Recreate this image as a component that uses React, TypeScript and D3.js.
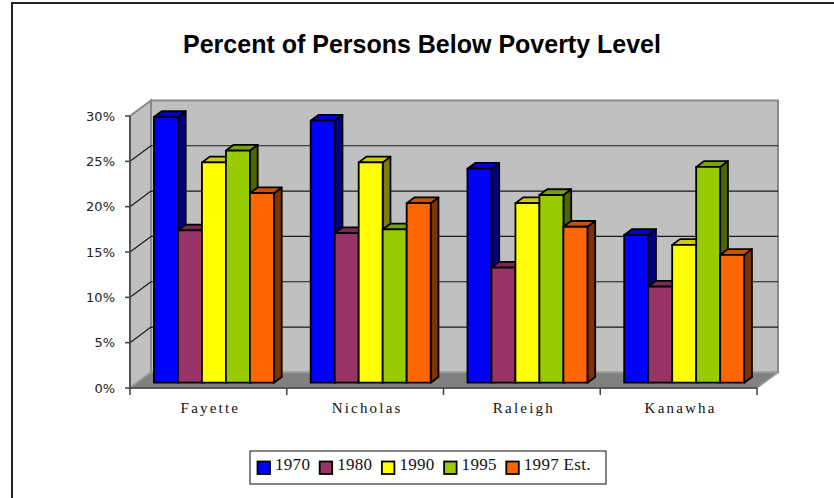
import React from "react";
import * as d3 from "d3";

// Poverty rates (%) by county and year
const counties = ["Fayette", "Nicholas", "Raleigh", "Kanawha"];
const years = ["1970", "1980", "1990", "1995", "1997 Est."];
const rate1970 = [29.3, 28.9, 23.6, 16.3];
const rate1980 = [16.8, 16.5, 12.7, 10.6];
const rate1990 = [24.3, 24.3, 19.8, 15.2];
const rate1995 = [25.6, 16.9, 20.7, 23.8];
const rate1997 = [20.9, 19.8, 17.2, 14.1];
const yTicks = [0, 5, 10, 15, 20, 25, 30];
const seriesColors = ["#0000FF", "#993366", "#FFFF00", "#99CC00", "#FF6600"];

const seriesValues = [rate1970, rate1980, rate1990, rate1995, rate1997];

const W = 834;
const H = 498;

// front floor edge and the oblique depth vector of the 3-D box
const x = d3.scaleBand<string>().domain(counties).range([130, 757]).padding(0);
const y = d3.scaleLinear().domain([0, 30]).range([388, 116]);
const DX = 21;
const DY = -15.6;
// bars occupy this slice of the depth
const F0 = 0.34;
const F1 = 0.71;

const inner = d3
  .scaleBand<string>()
  .domain(years)
  .range([0, x.bandwidth()])
  .paddingInner(0)
  .paddingOuter(0.766)
  .align(0.457);

function shade(c: string, k: number) {
  const r = d3.rgb(c);
  return d3.rgb(r.r * k, r.g * k, r.b * k).formatHex();
}

const pt = (px: number, py: number) => `${px.toFixed(2)},${py.toFixed(2)}`;

export default function App() {
  const x0 = x.range()[0];
  const x1 = x.range()[1];
  const yb = y(0);
  const yt = y(30);

  const bars: React.ReactNode[] = [];
  counties.forEach((c, ci) => {
    years.forEach((s, si) => {
      const v = seriesValues[si][ci];
      const l = (x(c) as number) + (inner(s) as number);
      const r = l + inner.bandwidth();
      const fx = F0 * DX;
      const fy = F0 * DY;
      const bx = F1 * DX;
      const by = F1 * DY;
      const top = y(v);
      const col = seriesColors[si];
      const front = [pt(l + fx, yb + fy), pt(l + fx, top + fy), pt(r + fx, top + fy), pt(r + fx, yb + fy)].join(" ");
      const topFace = [pt(l + fx, top + fy), pt(l + bx, top + by), pt(r + bx, top + by), pt(r + fx, top + fy)].join(" ");
      const side = [pt(r + fx, top + fy), pt(r + bx, top + by), pt(r + bx, yb + by), pt(r + fx, yb + fy)].join(" ");
      bars.push(
        <g key={`${c}-${s}`} stroke="#000" strokeWidth={1.8} strokeLinejoin="round">
          <polygon points={side} fill={shade(col, 0.5)} />
          <polygon points={topFace} fill={shade(col, 0.8)} />
          <polygon points={front} fill={col} />
        </g>
      );
    });
  });

  const grid = yTicks.filter((t) => t > 0 && t < 30);
  const legendX = 257;
  const legendStep = 62.2;

  return (
    <svg width={W} height={H} style={{ position: "absolute", left: 0, top: 0, background: "#fff" }}>
      {/* outer frame */}
      <rect x={12} y={3} width={840} height={520} fill="#fff" stroke="#222" strokeWidth={2} />

      <text
        x={422}
        y={53}
        textAnchor="middle"
        fontFamily="'Liberation Sans', Arial, sans-serif"
        fontWeight="bold"
        fontSize={25}
        fill="#000"
      >
        Percent of Persons Below Poverty Level
      </text>

      {/* walls and floor */}
      <polygon
        points={[pt(x0 + DX, yt + DY), pt(x1 + DX, yt + DY), pt(x1 + DX, yb + DY), pt(x0 + DX, yb + DY)].join(" ")}
        fill="#C0C0C0"
        stroke="#8a8a8a"
        strokeWidth={2}
      />
      <polygon
        points={[pt(x0, yb), pt(x0, yt), pt(x0 + DX, yt + DY), pt(x0 + DX, yb + DY)].join(" ")}
        fill="#C0C0C0"
        stroke="#8a8a8a"
        strokeWidth={2}
      />
      <polygon
        points={[pt(x0, yb), pt(x1, yb), pt(x1 + DX, yb + DY), pt(x0 + DX, yb + DY)].join(" ")}
        fill="#808080"
        stroke="#9a9a9a"
        strokeWidth={1.5}
      />

      {/* gridlines on back and side walls */}
      {grid.map((t) => (
        <g key={`g${t}`} stroke="#1a1a1a" strokeWidth={1.2}>
          <line x1={x0 + DX} x2={x1 + DX} y1={y(t) + DY} y2={y(t) + DY} />
          <line x1={x0} x2={x0 + DX} y1={y(t)} y2={y(t) + DY} />
        </g>
      ))}

      {bars}

      {/* value axis */}
      <line x1={x0} x2={x0} y1={yb} y2={yt} stroke="#404040" strokeWidth={1.5} />
      {yTicks.map((t) => (
        <g key={`yt${t}`}>
          <line x1={x0 - 5} x2={x0} y1={y(t)} y2={y(t)} stroke="#404040" strokeWidth={1.5} />
          <text
            x={x0 - 15}
            y={y(t)}
            dy="0.36em"
            textAnchor="end"
            fontFamily="'DejaVu Sans', Verdana, sans-serif"
            fontSize={13}
            fill="#222"
          >
            {`${t}%`}
          </text>
        </g>
      ))}

      {/* category axis */}
      <line x1={x0} x2={x1} y1={yb} y2={yb} stroke="#404040" strokeWidth={1.5} />
      {[...counties.map((c) => x(c) as number), x1].map((bx, i) => (
        <line key={`xt${i}`} x1={bx} x2={bx} y1={yb} y2={yb + 7} stroke="#404040" strokeWidth={1.5} />
      ))}
      {counties.map((c) => (
        <text
          key={`xl${c}`}
          x={(x(c) as number) + x.bandwidth() / 2 + 2}
          y={413}
          textAnchor="middle"
          fontFamily="'Liberation Serif', 'Times New Roman', serif"
          fontSize={15}
          letterSpacing={2.2}
          fill="#111"
        >
          {c}
        </text>
      ))}

      {/* legend */}
      <rect x={250} y={451} width={356} height={33} fill="#fff" stroke="#333" strokeWidth={1.2} />
      {years.map((s, i) => (
        <g key={`lg${s}`} transform={`translate(${legendX + i * legendStep},0)`}>
          <rect x={0.5} y={461.5} width={12.5} height={12.5} fill={seriesColors[i]} stroke="#000" strokeWidth={1.8} />
          <text
            x={18}
            y={469.5}
            fontFamily="'Liberation Serif', 'Times New Roman', serif"
            fontSize={17}
            letterSpacing={0.3}
            fill="#111"
          >
            {s}
          </text>
        </g>
      ))}
    </svg>
  );
}
